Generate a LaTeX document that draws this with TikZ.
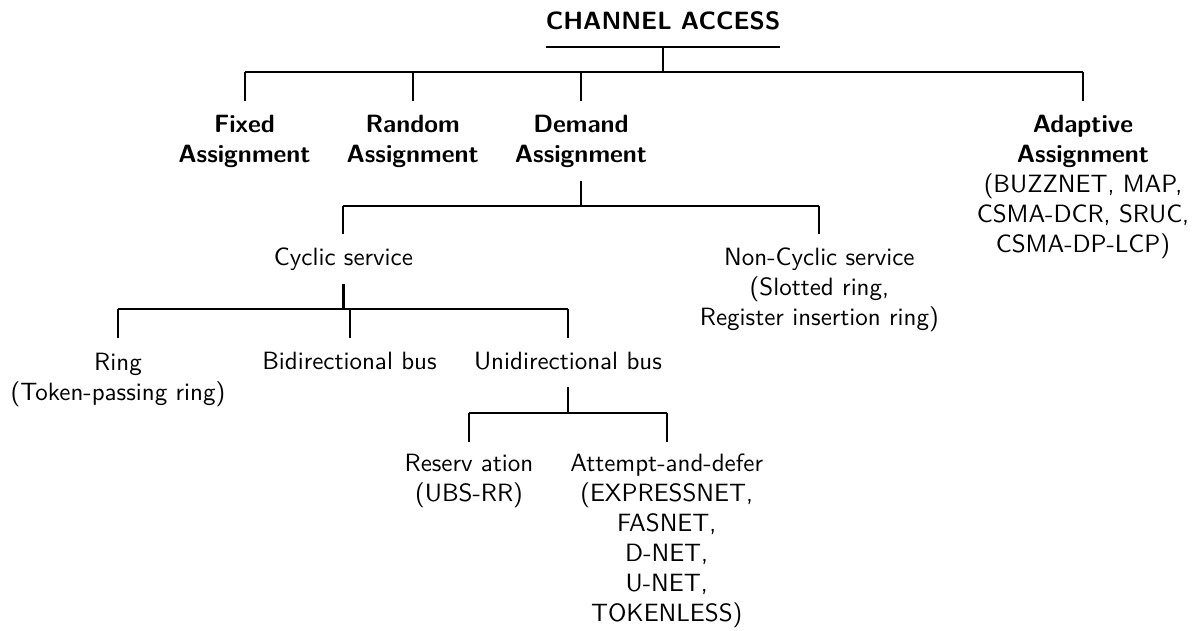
\documentclass[tikz,border=0pt]{standalone}
\usepackage{fontspec}
% the 10pt design of Latin Modern Sans, scaled up
\setsansfont{lmsans10-regular.otf}[BoldFont=lmsans10-bold.otf]
\begin{document}
\begin{tikzpicture}[x=1pt,y=-1pt,
  every node/.style={font=\fontsize{25}{30}\selectfont\sffamily,
    inner sep=0pt, anchor=base, align=center},
  head/.style={font=\fontsize{25}{30}\selectfont\sffamily\bfseries},
  stem/.style={line width=2.7pt},
  link/.style={line width=2pt},
]
\fill[white] (0,0) rectangle (1195,631);
\useasboundingbox (0,0) rectangle (1195,631);

% levels of the tree: stem start, bar, end of drops
\coordinate (b1) at (0,71.7);  \coordinate (d1) at (0,101);
\coordinate (s2) at (0,181);   \coordinate (b2) at (0,205.7); \coordinate (d2) at (0,234);
\coordinate (s3) at (0,284);   \coordinate (b3) at (0,309);   \coordinate (d3) at (0,338);
\coordinate (s4) at (0,387);   \coordinate (b4) at (0,412.5); \coordinate (d4) at (0,442);

% nodes, each placed at the baseline of its last line
\node[head] (title) at (663,29.3) {CHANNEL ACCESS};
\node[head] (fixed) at (244.5,162.3) {Fixed\\Assignment};
\node[head] (random) at (412.7,162.3) {Random\\Assignment};
\node[head] (demand) at (581,162.3) {Demand\\Assignment};
\node (adaptive) at (1083,252.3) {\textbf{Adaptive}\\\textbf{Assignment}\\(BUZZNET, MAP,\\CSMA-DCR, SRUC,\\CSMA-DP-LCP)};
\node (cyclic) at (343.4,265.7) {Cyclic service};
\node (noncyclic) at (819.4,326) {Non-Cyclic service\\(Slotted ring,\\Register insertion ring)};
\node (ring) at (118,400) {Ring\\(Token-passing ring)};
\node (bidir) at (349.5,370) {Bidirectional bus};
\node (unidir) at (568,370) {Unidirectional bus};
\node (reserv) at (469,501.7) {Reserv ation\\(UBS-RR)};
\node (attempt) at (666.7,621.7) {Attempt-and-defer\\(EXPRESSNET,\\FASNET,\\D-NET,\\U-NET,\\TOKENLESS)};

% title underline and first level
\coordinate (ul) at ([yshift=-17.4pt]title.base);
\draw[link] ([yshift=-17.4pt]title.base west) -- ([yshift=-17.4pt]title.base east);
\draw[stem] (ul) -- (title |- b1);
\draw[link] (fixed |- b1) -- (adaptive |- b1);
\foreach \n in {fixed,random,demand,adaptive}
  \draw[link] (\n |- b1) -- (\n |- d1);

% demand assignment
\draw[stem] (demand |- s2) -- (demand |- b2);
\draw[link] (cyclic |- b2) -- (noncyclic |- b2);
\foreach \n in {cyclic,noncyclic}
  \draw[link] (\n |- b2) -- (\n |- d2);

% cyclic service
\draw[stem] (cyclic |- s3) -- (cyclic |- b3);
\draw[link] (ring |- b3) -- (unidir |- b3);
\foreach \n in {ring,bidir,unidir}
  \draw[link] (\n |- b3) -- (\n |- d3);

% unidirectional bus
\draw[stem] (unidir |- s4) -- (unidir |- b4);
\draw[link] (reserv |- b4) -- (attempt |- b4);
\foreach \n in {reserv,attempt}
  \draw[link] (\n |- b4) -- (\n |- d4);
\end{tikzpicture}
\end{document}
